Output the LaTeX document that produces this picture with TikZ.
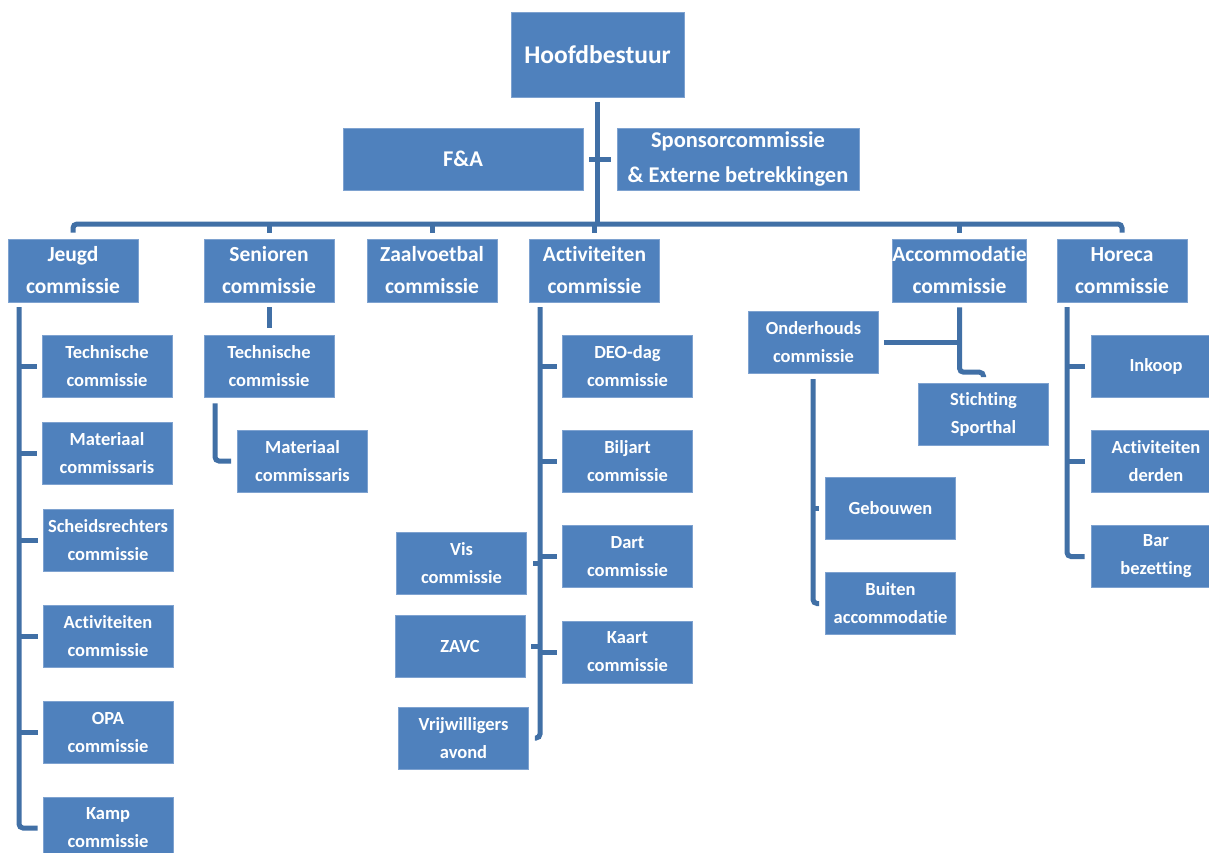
\documentclass[tikz,border=0pt]{standalone}
\usepackage{fontspec}
\setmainfont{Carlito}[Ligatures={NoCommon}]
\definecolor{boxblue}{HTML}{4F81BD}
\definecolor{boxedge}{HTML}{7EA2D0}
\definecolor{linecol}{HTML}{4170A6}
\tikzset{
  base/.style={rectangle, fill=boxblue, draw=boxedge, line width=0.6pt, text=white, align=center, inner sep=0pt},
  topbox/.style={base, minimum width=130pt, minimum height=63pt, font=\fontsize{21.5}{32}\selectfont\bfseries},
  kidbox/.style={base, minimum width=130pt, minimum height=62pt, font=\fontsize{18.5}{28}\selectfont\bfseries},
  conn/.style={draw=linecol, line width=5pt, rounded corners=4pt}
}
\begin{document}
\begin{tikzpicture}[x=1pt,y=-1pt]
\useasboundingbox (0,0) rectangle (1209,852);
\fill[white] (0,0) rectangle (1209,852);
% top
\node[base, minimum width=173pt, minimum height=85pt, font=\fontsize{25.5}{30}\selectfont\bfseries] (hb) at (597.5,54.5) {Hoofdbestuur};
\node[base, minimum width=240pt, minimum height=62pt, font=\fontsize{22.5}{35}\selectfont\bfseries] (fa) at (463,159) {F\&A};
\node[base, minimum width=242pt, minimum height=62pt, font=\fontsize{22.5}{35}\selectfont\bfseries] (sp) at (738,159) {Sponsorcommissie\\\& Externe betrekkingen};
% level 1
\node[topbox] (jc) at (73,270.5) {Jeugd\\commissie};
\node[topbox] (sc) at (269,270.5) {Senioren\\commissie};
\node[topbox] (zc) at (432,270.5) {Zaalvoetbal\\commissie};
\node[topbox] (ac) at (594.5,270.5) {Activiteiten\\commissie};
\node[topbox] (mc) at (959.5,270.5) {Accommodatie\\commissie};
\node[topbox] (hc) at (1122,270.5) {Horeca\\commissie};
% Jeugd children
\node[kidbox] (j1) at (107,366) {Technische\\commissie};
\node[kidbox] (j2) at (107,453.5) {Materiaal\\commissaris};
\node[kidbox] (j3) at (108,540.5) {Scheidsrechters\\commissie};
\node[kidbox] (j4) at (108,636.5) {Activiteiten\\commissie};
\node[kidbox] (j5) at (108,732) {OPA\\commissie};
\node[kidbox] (j6) at (108,828) {Kamp\\commissie};
% Senioren children
\node[kidbox] (s1) at (269,366) {Technische\\commissie};
\node[kidbox] (s2) at (302.5,461) {Materiaal\\commissaris};
% Activiteiten children
\node[kidbox] (a1) at (627.5,366) {DEO-dag\\commissie};
\node[kidbox] (a2) at (627.5,461) {Biljart\\commissie};
\node[kidbox] (a3) at (627.5,556.5) {Dart\\commissie};
\node[kidbox] (a4) at (627.5,652) {Kaart\\commissie};
\node[kidbox] (a5) at (461.5,563) {Vis\\commissie};
\node[kidbox] (a6) at (460,646.5) {ZAVC};
\node[kidbox] (a7) at (463.5,738) {Vrijwilligers\\avond};
% Accommodatie children
\node[kidbox] (m1) at (813.5,342) {Onderhouds\\commissie};
\node[kidbox] (m2) at (983.5,414.5) {Stichting\\Sporthal};
\node[kidbox] (m3) at (890.5,508) {Gebouwen};
\node[kidbox] (m4) at (890.5,603.5) {Buiten\\accommodatie};
% Horeca children
\node[kidbox] (h1) at (1156,366) {Inkoop};
\node[kidbox] (h2) at (1156,461) {Activiteiten\\derden};
\node[kidbox] (h3) at (1156,556.5) {Bar\\bezetting};
% coordinates
\coordinate (bus) at (0,224);
\coordinate (jt) at (19,307);
\coordinate (at) at (540,307);
\coordinate (ht) at (1067,307);
\coordinate (ot) at (813,379);
% connectors: top
\draw[conn] ([yshift=-5pt]hb.south) -- (hb.south |- bus);
\draw[conn] ([xshift=6pt]fa.east) -- ([xshift=-6pt]sp.west);
\draw[conn] ([yshift=6pt]jc.north) -- (jc.north |- bus) -- (hc.north |- bus) -- ([yshift=6pt]hc.north);
\foreach \n in {sc,zc,ac,mc}{\draw[conn] (\n.north |- bus) -- ([yshift=6pt]\n.north);}
% Jeugd
\draw[conn] (jt) |- ([xshift=-5pt]j6.west);
\foreach \n in {j1,j2,j3,j4,j5}{\draw[conn] (jt |- \n.west) -- ([xshift=-5pt]\n.west);}
% Senioren
\draw[conn] ([yshift=-5pt]sc.south) -- ([yshift=7pt]s1.north);
\draw[conn] ([xshift=-54pt,yshift=-6pt]s1.south) |- ([xshift=-6pt]s2.west);
% Activiteiten
\draw[conn] (at) |- ([xshift=6pt]a7.east);
\foreach \n in {a1,a2,a3,a4}{\draw[conn] (at |- \n.west) -- ([xshift=-5pt]\n.west);}
\foreach \n in {a5,a6}{\draw[conn] (at |- \n.east) -- ([xshift=6pt]\n.east);}
% Accommodatie
\draw[conn] ([yshift=-5pt]mc.south) |- ([yshift=11pt]m2.north -| 972,0) -| ([yshift=6pt]m2.north);
\draw[conn] ([xshift=5pt]m1.east) -- (mc.south |- m1.east);
\draw[conn] (ot) |- ([xshift=-6pt]m4.west);
\draw[conn] (ot |- m3.west) -- ([xshift=-6pt]m3.west);
% Horeca
\draw[conn] (ht) |- ([xshift=-6pt]h3.west);
\foreach \n in {h1,h2}{\draw[conn] (ht |- \n.west) -- ([xshift=-6pt]\n.west);}
\end{tikzpicture}
\end{document}
